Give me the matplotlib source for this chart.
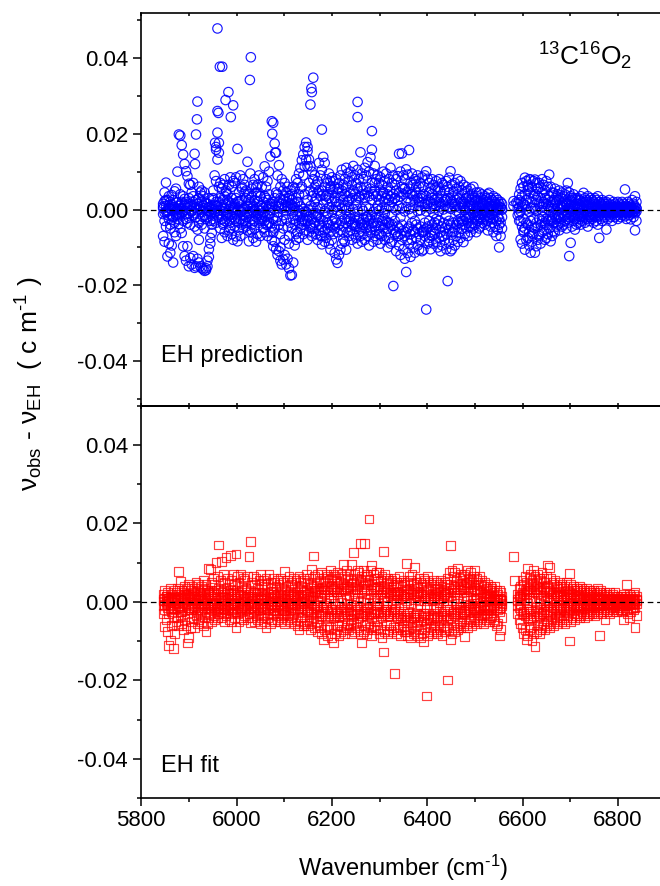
import matplotlib
matplotlib.use('Agg')
import matplotlib.pyplot as plt
from matplotlib.ticker import MultipleLocator, FormatStrFormatter

nan = float('nan')

# ---------------- data (residuals in units of 1e-3 cm^-1) ----------------
wavenumber = [
    5846, 5849, 5852, 5855, 5858, 5861, 5864, 5867, 5870, 5873,
    5876, 5879, 5882, 5885, 5888, 5891, 5894, 5897, 5900, 5903,
    5906, 5909, 5912, 5915, 5918, 5921, 5924, 5927, 5930, 5933,
    5936, 5939, 5942, 5945, 5948, 5951, 5954, 5957, 5960, 5963,
    5966, 5969, 5972, 5975, 5978, 5981, 5984, 5987, 5990, 5993,
    5996, 5999, 6002, 6005, 6008, 6011, 6014, 6017, 6020, 6023,
    6026, 6029, 6032, 6035, 6038, 6041, 6044, 6047, 6050, 6053,
    6056, 6059, 6062, 6065, 6068, 6071, 6074, 6077, 6080, 6083,
    6086, 6089, 6092, 6095, 6098, 6101, 6104, 6107, 6110, 6113,
    6116, 6119, 6122, 6125, 6128, 6131, 6134, 6137, 6140, 6143,
    6146, 6149, 6152, 6155, 6158, 6161, 6164, 6167, 6170, 6173,
    6176, 6179, 6182, 6185, 6188, 6191, 6194, 6197, 6200, 6203,
    6206, 6209, 6212, 6215, 6218, 6221, 6224, 6227, 6230, 6233,
    6236, 6239, 6242, 6245, 6248, 6251, 6254, 6257, 6260, 6263,
    6266, 6269, 6272, 6275, 6278, 6281, 6284, 6287, 6290, 6293,
    6296, 6299, 6302, 6305, 6308, 6311, 6314, 6317, 6320, 6323,
    6326, 6329, 6332, 6335, 6338, 6341, 6344, 6347, 6350, 6353,
    6356, 6359, 6362, 6365, 6368, 6371, 6374, 6377, 6380, 6383,
    6386, 6389, 6392, 6395, 6398, 6401, 6404, 6407, 6410, 6413,
    6416, 6419, 6422, 6425, 6428, 6431, 6434, 6437, 6440, 6443,
    6446, 6449, 6452, 6455, 6458, 6461, 6464, 6467, 6470, 6473,
    6476, 6479, 6482, 6485, 6488, 6491, 6494, 6497, 6500, 6503,
    6506, 6509, 6512, 6515, 6518, 6521, 6524, 6527, 6530, 6533,
    6536, 6539, 6542, 6545, 6548, 6551, 6554, 6557, 6560, 6563,
    6566, 6569, 6572, 6575, 6578, 6581, 6584, 6587, 6590, 6593,
    6596, 6599, 6602, 6605, 6608, 6611, 6614, 6617, 6620, 6623,
    6626, 6629, 6632, 6635, 6638, 6641, 6644, 6647, 6650, 6653,
    6656, 6659, 6662, 6665, 6668, 6671, 6674, 6677, 6680, 6683,
    6686, 6689, 6692, 6695, 6698, 6701, 6704, 6707, 6710, 6713,
    6716, 6719, 6722, 6725, 6728, 6731, 6734, 6737, 6740, 6743,
    6746, 6749, 6752, 6755, 6758, 6761, 6764, 6767, 6770, 6773,
    6776, 6779, 6782, 6785, 6788, 6791, 6794, 6797, 6800, 6803,
    6806, 6809, 6812, 6815, 6818, 6821, 6824, 6827, 6830, 6833,
    6836, 6839,
]

# EH prediction residuals
pred_lower = [
    -7.0, -8.5, -4.5, -12.4, -9.0, -11.4, -9.5, -14.0, -6.0, -7.0,
    -2.5, -3.8, -5.0, -6.2, -9.7, -12.3, -13.5, -9.7, -15.0, -12.8,
    -14.5, -12.3, -15.4, -15.0, -13.0, -14.0, -15.0, -15.5, -15.8, -16.2,
    -16.0, -15.0, -12.5, -9.0, -6.2, -3.0, 1.2, 7.5, 13.2, 15.0,
    -5.0, -7.5, -4.0, -6.0, -2.5, -7.0, -5.5, -3.5, -6.5, -8.0,
    -4.5, -7.1, -8.4, -5.5, -7.0, -4.0, -5.0, -3.0, -3.5, -5.5,
    -8.4, -6.0, -4.0, -7.5, -5.0, -8.5, -6.5, -2.5, -7.0, -3.0,
    -5.0, -6.0, -4.0, -7.0, -3.5, -6.0, -8.0, -9.7, -8.5, -10.5,
    -12.0, -11.0, -13.5, -14.5, -13.2, -12.0, -14.5, -13.0, -15.5, -17.4,
    -17.3, -14.0, -9.5, -8.0, -6.0, -7.5, -5.0, -4.0, -6.5, -3.0,
    -5.5, -8.0, -6.0, -4.5, -7.0, -5.0, -3.5, -6.5, -8.0, -5.5,
    -7.0, -9.2, -6.0, -8.5, -7.5, -5.0, -9.0, -10.6, -8.0, -6.5,
    -11.5, -13.2, -14.1, -12.0, -10.6, -9.0, -7.9, -8.5, -10.6, -6.0,
    -7.0, -5.5, -8.0, -6.5, -4.5, -7.5, -9.0, -6.0, -5.0, -8.5,
    -6.5, -8.0, -5.0, -7.0, -9.5, -6.0, -4.5, -8.5, -7.0, -5.5,
    -8.0, -6.5, -9.0, -7.0, -5.0, -8.0, -6.0, -10.0, -7.5, -9.0,
    -8.5, -20.2, -6.5, -11.0, -7.0, -9.5, -12.0, -8.0, -10.5, -13.0,
    -16.5, -11.5, -9.0, -12.5, -8.0, -10.0, -11.4, -7.5, -9.5, -10.6,
    -8.0, -11.0, -10.6, -7.0, -26.4, -9.0, -8.5, -10.5, -7.0, -9.0,
    -6.5, -8.5, -10.0, -7.5, -11.0, -9.5, -7.0, -8.0, -10.5, -18.9,
    -9.0, -11.0, -10.5, -8.0, -9.5, -7.0, -8.5, -6.0, -7.5, -5.0,
    -8.6, -6.5, -5.0, -7.0, -4.5, -6.0, -3.5, -5.0, -4.0, -6.0,
    -3.0, -5.0, -4.5, -3.5, -2.5, -4.0, -3.0, -5.5, -2.0, -4.5,
    -3.5, -6.0, -4.5, -7.0, -5.3, -10.0, -7.0, -5.0, nan, nan,
    nan, nan, nan, nan, nan, 1.0, nan, 1.8, nan, -3.0,
    -7.9, -9.0, -6.0, -10.6, -8.0, -7.5, -9.5, -11.4, -8.5, -6.5,
    -11.4, -9.7, -8.0, -7.0, -9.0, -6.0, -5.5, -8.0, -7.5, -6.5,
    -5.0, -8.4, -7.0, -5.7, -6.0, -4.5, -4.0, -5.5, -3.5, -4.5,
    -4.0, -3.0, -5.0, -3.5, -12.3, -8.8, -4.5, -3.0, -5.3, -4.0,
    -3.5, -2.5, -4.0, -3.0, -2.0, -3.5, -2.5, -4.5, -3.0, -2.0,
    -2.5, -3.5, -2.0, -3.0, -4.0, -7.5, -2.5, -3.0, -1.5, -2.0,
    -5.3, -2.5, -1.5, -2.0, -3.0, -1.0, -2.0, -1.5, -2.5, -1.0,
    -2.0, -1.5, -1.0, -1.8, -2.5, -1.0, -1.5, -2.6, -1.0, -2.0,
    -5.5, -3.0,
]

pred_upper = [
    1.5, 4.5, 7.1, 2.5, 3.5, 2.0, 3.8, 2.5, 4.8, 5.5,
    10.0, 19.8, 19.5, 17.0, 14.5, 12.0, 10.1, 8.8, 6.8, 6.5,
    4.5, 7.0, 14.7, 19.8, 28.5, 6.0, 4.5, 5.0, 3.5, 4.5,
    -15.5, -13.5, -10.5, -7.5, -4.0, 3.0, 9.0, 15.8, 20.3, 17.6,
    7.0, 5.5, 6.5, 8.0, 5.0, 4.0, 6.5, 8.5, 6.0, 7.5,
    7.0, 8.5, 16.0, 4.5, 9.0, 6.0, 8.0, 6.5, 5.0, 12.6,
    4.0, 9.5, 5.5, 6.5, 8.0, 6.0, 4.5, 9.0, 3.5, 6.0,
    8.5, 11.4, 6.0, 7.5, 10.0, 14.0, 23.3, 22.9, 17.4, 15.0,
    9.0, 11.7, 6.0, 8.0, 5.0, 7.0, 4.5, 6.0, 3.5, 5.0,
    4.0, 6.0, 5.5, 8.0, 7.0, 9.5, 11.0, 13.0, 14.5, 16.5,
    17.7, 15.4, 13.2, 11.4, 10.0, 8.0, 9.0, 6.5, 7.5, 12.3,
    9.0, 10.5, 13.9, 12.3, 8.0, 7.0, 9.5, 6.0, 8.5, 7.5,
    6.0, 8.0, 5.5, 7.0, 9.0, 10.5, 6.5, 8.0, 11.0, 9.5,
    7.5, 10.0, 8.5, 11.5, 9.0, 7.0, 10.5, 8.0, 15.1, 9.5,
    8.0, 11.0, 9.0, 12.5, 10.0, 13.8, 15.8, 9.5, 11.5, 8.0,
    9.0, 7.0, 8.5, 6.5, 10.0, 7.5, 9.5, 6.0, 8.0, 11.0,
    7.0, 9.0, 6.5, 8.0, 8.8, 14.7, 10.0, 14.8, 9.0, 8.0,
    10.6, 9.2, 15.7, 7.0, 9.5, 6.5, 8.0, 7.5, 9.0, 6.0,
    7.0, 8.5, 6.0, 9.0, 10.1, 8.1, 7.0, 5.5, 8.0, 6.5,
    5.5, 7.5, 6.0, 8.0, 5.0, 7.0, 6.5, 5.0, 7.5, 6.0,
    8.4, 10.1, 6.6, 4.8, 7.0, 5.5, 8.0, 6.0, 7.5, 5.0,
    6.5, 4.5, 6.0, 5.0, 3.5, 5.5, 4.0, 6.0, 3.0, 4.5,
    3.5, 4.5, 3.0, 4.0, 2.5, 3.5, 3.0, 4.0, 4.4, 3.0,
    2.5, 3.5, 2.0, 3.0, 2.5, 1.5, 2.0, 1.5, nan, nan,
    nan, nan, nan, nan, nan, 2.2, nan, nan, nan, 4.0,
    5.5, 7.0, 6.0, 8.4, 7.5, 6.5, 8.0, 7.9, 6.0, 7.5,
    7.9, 7.0, 5.5, 7.0, 6.0, 8.0, 6.5, 5.0, 7.5, 6.0,
    9.2, 6.0, 4.5, 4.4, 5.5, 3.5, 4.0, 5.0, 3.0, 4.5,
    3.5, 4.0, 5.0, 7.0, 4.5, 3.5, 3.0, 4.0, 3.0, 2.5,
    3.0, 2.5, 3.5, 2.0, 4.4, 3.0, 2.5, 3.5, 2.0, 3.0,
    2.5, 2.0, 3.0, 2.5, 3.5, 2.0, 1.5, 2.5, 2.0, 1.5,
    2.0, 1.5, 2.5, 1.3, 1.0, 2.0, 1.5, 1.0, 2.0, 1.5,
    1.0, 2.0, 1.5, 5.3, 1.0, 2.0, 1.5, 1.0, 2.5, 1.5,
    3.5, 2.0,
]

pred_core_neg = [
    -1.2, -3.0, -0.5, -1.5, -2.5, -4.0, -2.8, -1.8, -3.5, -1.5,
    -0.8, -1.2, 0.3, -1.0, -3.0, 1.0, -2.5, -3.5, -1.0, -4.0,
    -0.5, -1.5, -4.5, -2.0, -5.3, -3.5, -2.5, -4.0, -2.0, -5.0,
    -2.5, -2.0, -0.5, -3.0, -0.8, -2.5, -1.0, -3.5, -1.5, -2.0,
    -1.0, -2.5, -0.5, -3.0, -1.5, -1.0, -3.0, -1.5, -2.0, -0.5,
    -2.5, -1.0, -1.5, -3.5, -2.5, -0.5, -3.0, -1.5, -2.0, -1.0,
    -2.0, -1.0, -2.5, -0.5, -3.0, -2.0, -1.0, -3.5, -1.5, -2.5,
    -1.0, -3.0, -2.0, -1.5, -3.5, -1.0, -4.5, -6.0, -5.0, -3.0,
    -2.0, -4.0, -6.5, -3.0, -5.0, -8.0, -2.5, -4.5, -7.0, -3.5,
    -5.0, -2.5, -4.0, -3.0, -1.5, -3.5, -2.0, -1.0, -2.5, -0.5,
    -1.5, -3.0, -2.0, -4.0, -2.5, -1.0, -3.5, -2.0, -1.5, -4.0,
    -2.5, -4.5, -3.0, -5.5, -2.0, -3.5, -4.0, -6.0, -3.0, -4.5,
    -5.0, -3.5, -6.0, -4.0, -5.5, -3.0, -4.5, -2.5, -3.5, -2.0,
    -3.0, -2.5, -4.0, -3.5, -2.0, -4.5, -3.0, -2.5, -3.5, -4.0,
    -2.5, -3.5, -2.0, -4.0, -3.0, -2.5, -1.5, -3.5, -4.5, -2.0,
    -3.5, -2.0, -4.5, -3.0, -2.5, -4.0, -3.0, -5.0, -3.5, -4.5,
    -4.0, -5.5, -3.0, -6.0, -4.5, -5.0, -6.5, -4.0, -5.5, -7.0,
    -6.0, -5.0, -4.5, -6.5, -3.5, -5.5, -6.0, -4.0, -5.0, -6.5,
    -4.5, -6.0, -5.5, -3.5, -5.0, -4.5, -3.0, -6.0, -4.0, -5.5,
    -3.5, -5.0, -4.0, -3.0, -6.0, -4.5, -3.5, -5.0, -6.5, -4.0,
    -5.0, -4.0, -6.0, -3.5, -5.0, -4.0, -3.0, -3.5, -2.5, -3.0,
    -3.0, -2.0, -2.5, -3.5, -2.0, -1.5, -2.5, -1.0, -2.0, -1.5,
    -1.5, -2.0, -1.0, -1.5, -0.5, -2.0, -1.0, -1.5, -0.5, -2.5,
    -1.5, -2.5, -1.0, -3.0, -2.0, -4.0, -3.5, -2.0, nan, nan,
    nan, nan, nan, nan, nan, nan, nan, nan, -1.5, -1.0,
    -3.0, -4.5, -2.5, -5.0, -3.5, -4.0, -6.0, -3.0, -4.5, -2.5,
    -5.0, -3.5, -4.5, -2.5, -4.0, -3.0, -2.0, -3.5, -2.5, -3.0,
    -2.5, -3.0, -2.0, -3.5, -1.5, -2.5, -2.0, -1.5, -2.5, -1.0,
    -2.0, -1.5, -1.0, -2.5, -2.0, -1.5, -1.0, -2.0, -1.5, -1.0,
    -1.5, -1.0, -2.0, -1.5, -1.0, -0.5, -1.5, -1.0, -2.0, -0.5,
    -1.0, -1.5, -0.5, -1.0, -2.0, -1.5, -1.0, -0.5, -1.0, -0.8,
    -0.5, -1.0, -0.8, -0.5, -1.2, -0.5, -0.8, -0.3, -0.6, -0.5,
    -0.8, -0.5, -0.3, -0.6, -1.0, -0.4, -0.7, -0.5, -0.3, -0.6,
    -1.0, -0.5,
]

pred_core_pos = [
    0.8, 2.2, 1.0, -0.5, 0.5, 0.2, 1.2, 0.6, 0.0, 1.8,
    2.0, 0.9, 4.0, 2.0, 3.5, 1.5, 2.0, 1.0, 3.0, 1.5,
    1.0, 2.0, 0.5, 2.5, 1.5, 3.0, 0.0, 2.0, 1.0, 1.8,
    0.5, 1.5, 3.0, 0.5, 1.0, 2.5, 0.0, 2.0, 1.0, 2.0,
    3.0, 0.5, 2.5, 3.5, 1.5, 2.5, 2.0, 1.0, 3.0, 0.5,
    1.5, 3.0, 2.0, 1.5, 0.5, 2.5, 0.0, 4.5, 3.0, 1.0,
    2.5, 1.5, 3.5, 1.0, 2.5, 4.5, 2.0, 0.5, 3.5, 1.0,
    2.0, 3.5, 1.0, 2.5, 4.0, 1.5, 0.5, 2.0, 3.0, 1.0,
    4.0, 2.0, 3.0, 1.5, 2.5, 0.5, 2.0, 1.0, 3.0, 1.5,
    2.5, 0.5, 1.5, 3.0, 2.0, 4.0, 5.5, 6.0, 9.0, 11.4,
    13.2, 11.4, 7.0, 5.0, 3.5, 4.5, 2.0, 3.0, 4.5, 5.0,
    3.5, 5.0, 4.0, 6.0, 2.5, 4.0, 3.0, 5.5, 2.0, 4.5,
    3.0, 2.0, 4.5, 1.5, 3.5, 5.0, 2.5, 4.0, 6.0, 3.5,
    2.5, 4.5, 3.0, 5.0, 4.0, 2.5, 5.5, 3.5, 6.0, 4.0,
    5.0, 3.0, 6.0, 4.5, 3.5, 5.5, 7.0, 4.0, 5.0, 3.5,
    4.0, 2.5, 5.0, 3.5, 4.5, 2.0, 3.0, 4.0, 2.5, 3.5,
    2.0, 4.0, 3.0, 5.0, 2.5, 4.5, 3.5, 6.0, 4.0, 5.5,
    4.5, 3.0, 5.5, 2.0, 4.0, 3.5, 2.5, 4.5, 3.0, 2.0,
    3.0, 2.0, 4.0, 1.5, 3.5, 2.5, 4.5, 2.0, 3.0, 1.5,
    2.5, 1.0, 3.0, 2.0, 1.5, 3.5, 2.0, 1.0, 2.5, 3.0,
    4.5, 3.0, 2.0, 3.5, 1.5, 2.5, 1.0, 3.0, 2.0, 1.5,
    2.0, 1.5, 3.0, 1.0, 2.0, 1.5, 2.5, 1.0, 2.0, 0.5,
    1.5, 1.0, 2.0, 0.5, 1.5, 1.0, 2.0, 0.5, 1.5, 1.0,
    1.0, 0.5, 1.5, 0.5, 1.0, 0.0, 0.5, 0.2, nan, nan,
    nan, nan, nan, nan, nan, nan, nan, nan, 1.5, 0.5,
    2.0, 3.5, 1.5, 4.0, 2.5, 5.0, 3.0, 4.5, 2.0, 3.5,
    4.0, 2.5, 3.5, 1.5, 3.0, 4.5, 2.0, 3.0, 1.5, 2.5,
    3.5, 2.0, 1.0, 2.5, 1.5, 2.0, 1.0, 2.5, 1.0, 1.5,
    1.0, 2.0, 1.5, 0.5, 1.5, 1.0, 2.0, 0.5, 1.0, 1.5,
    0.5, 1.5, 1.0, 0.5, 1.0, 2.0, 0.5, 1.0, 1.5, 0.5,
    1.0, 0.5, 1.5, 0.5, 1.0, 0.3, 0.8, 0.5, 1.0, 0.3,
    0.5, 0.8, 0.3, 0.6, 0.5, 0.2, 0.7, 0.4, 0.8, 0.3,
    0.6, 0.4, 0.8, 0.5, 0.3, 0.7, 0.4, 0.6, 0.3, 0.5,
    0.8, 0.4,
]

pred_mid = [
    0.3, -0.8, 2.5, -0.2, 1.1, -5.0, 0.0, -2.0, 0.6, -0.4,
    0.2, -1.8, 1.3, 0.0, -0.6, 2.8, -1.3, 0.4, -2.2, 0.8,
    -0.3, 3.5, -1.0, 0.5, -0.2, -8.0, 1.0, -0.7, 0.3, -1.5,
    1.8, -0.4, 0.6, -1.2, 0.1, 5.0, -0.6, 0.9, -0.3, 6.0,
    -0.2, 1.2, -3.5, 0.4, 4.5, -0.8, 0.2, -5.0, 1.6, -0.1,
    0.5, -3.0, 0.0, 2.2, -0.6, 5.5, -1.4, 0.3, -4.5, 0.8,
    -0.5, 2.0, -5.5, 0.6, 0.0, -1.2, 6.5, -0.3, 0.9, -2.0,
    0.4, -0.6, 3.0, -4.0, 0.8, -0.2, 1.5, -2.5, 0.0, 4.5,
    -0.8, 1.0, -10.0, 0.3, -1.5, 3.5, -0.4, 0.7, -9.0, 0.2,
    1.2, -0.5, 0.4, -6.5, 2.0, -0.3, 0.8, -3.0, 0.1, 4.0,
    -0.6, 2.5, -0.2, 0.9, -5.0, 0.3, 6.0, -1.0, 0.5, -2.0,
    0.2, -7.0, 1.5, -0.4, 3.5, -1.0, 0.6, 7.5, -0.8, 0.0,
    -2.5, 0.7, -0.3, 5.5, -1.2, 0.4, -6.0, 1.0, -0.2, 2.0,
    0.5, -0.9, 6.5, 0.0, -4.0, 1.3, -0.5, 3.0, -7.0, 0.2,
    -0.4, 4.0, 0.8, -2.0, 0.3, -5.5, 2.5, -0.6, 7.0, 0.1,
    1.0, -0.3, -6.5, 0.5, 4.5, -1.0, 0.2, -3.5, 0.7, 5.0,
    -1.5, 0.4, 3.0, -0.2, -7.0, 0.9, -2.0, 0.3, 5.5, -0.5,
    0.6, -8.0, 0.1, 4.0, -1.2, 0.5, -3.0, 6.0, -0.4, 1.0,
    -0.2, 3.5, -6.0, 0.6, -0.5, 1.5, -7.5, 0.2, 4.0, -1.0,
    0.3, -2.5, 5.0, -0.4, 0.8, -7.0, 0.0, 2.5, -1.5, 0.5,
    -3.0, 0.2, 1.5, -6.0, 0.6, -0.3, 4.0, -1.0, 0.4, -4.0,
    0.5, -0.2, 3.0, -2.0, 0.3, 1.0, -4.5, 0.2, -0.6, 2.5,
    -0.3, 0.6, -2.5, 1.5, 0.0, -0.5, 2.0, -3.0, 0.4, 0.1,
    0.5, -0.4, 1.5, -0.2, 0.3, -2.5, 0.6, -0.1, nan, nan,
    nan, nan, nan, nan, nan, nan, nan, nan, 0.3, 2.5,
    -0.5, 0.8, -5.5, 1.2, 0.0, 6.0, -0.6, 0.3, -7.0, 0.5,
    0.2, -0.4, 5.5, -6.5, 0.6, -0.2, 1.5, -4.0, 0.3, 0.9,
    -0.3, 0.6, -3.0, 0.2, 2.5, -0.5, 0.4, -2.0, 0.1, 0.7,
    0.4, -0.2, 1.8, -0.6, 0.3, 2.5, -0.4, 0.2, -2.5, 0.5,
    -0.2, 0.4, -1.0, 0.6, 0.0, -0.3, 1.2, -0.5, 0.3, -1.5,
    0.2, -0.4, 0.6, -0.1, 0.3, -0.6, 0.1, 1.0, -0.3, 0.2,
    -0.2, 0.3, -0.4, 0.1, 0.2, -0.3, 0.4, -0.1, 0.2, -0.2,
    0.1, -0.2, 0.3, -0.1, 0.2, -0.3, 0.1, 0.2, -0.2, 0.1,
    -0.3, 0.2,
]

pred_extra_wn = [5960, 5965, 5970, 6030, 6028, 5983, 5977, 5993, 5988, 5960,
                 5962, 5917, 5913, 6161, 6157, 6158, 6155, 6179, 6254, 6254,
                 6284, 6149, 6081, 6075, 5955, 5957]
pred_extra_res = [47.8, 37.7, 37.7, 40.2, 34.2, 31.0, 28.9, 27.5, 24.4, 26.0,
                  25.5, 23.8, 12.0, 34.8, 32.0, 31.0, 27.7, 21.1, 28.4, 24.4,
                  20.7, 16.5, 15.0, 20.0, 17.6, 16.5]

# EH fit residuals
fit_lower = [
    -3.0, -6.3, -4.5, -7.6, -11.1, -9.7, -6.0, -11.9, -8.0, -5.0,
    -4.0, -6.0, -3.5, -5.5, -7.0, -4.5, -6.0, -10.5, -9.0, -6.5,
    -5.0, -4.0, -6.5, -3.5, -5.5, -4.5, -3.0, -5.0, -6.0, -4.0,
    -7.6, -5.5, -4.0, -3.0, -5.0, -3.5, -4.5, -2.5, -4.0, -3.0,
    -2.5, -4.0, -3.0, -5.0, -3.5, -2.0, -4.5, -3.0, -5.0, -2.5,
    -4.0, -6.5, -3.0, -5.0, -4.0, -2.5, -4.5, -3.5, -2.0, -4.0,
    -3.0, -5.3, -4.0, -2.5, -5.0, -3.5, -4.5, -3.0, -5.5, -4.0,
    -3.5, -5.0, -6.5, -4.0, -3.0, -5.5, -4.5, -3.0, -5.0, -3.5,
    -4.5, -3.0, -5.0, -4.0, -3.5, -5.5, -3.0, -4.5, -3.5, -5.0,
    -4.0, -3.0, -5.5, -4.5, -6.0, -7.1, -5.0, -4.0, -6.0, -5.5,
    -4.5, -6.0, -5.0, -7.0, -5.5, -4.0, -6.5, -5.0, -7.5, -6.0,
    -6.5, -8.0, -9.7, -7.0, -6.0, -8.5, -7.0, -6.5, -9.0, -10.4,
    -8.0, -7.0, -6.0, -8.5, -7.5, -6.0, -7.0, -8.0, -6.5, -5.5,
    -7.0, -6.0, -8.0, -5.5, -7.5, -6.5, -5.0, -7.0, -8.2, -10.5,
    -7.5, -6.0, -8.0, -7.0, -5.5, -6.5, -8.5, -7.0, -6.0, -5.0,
    -6.5, -8.0, -7.0, -9.0, -12.8, -7.5, -6.0, -8.0, -7.0, -6.0,
    -7.5, -6.5, -18.3, -8.0, -7.0, -6.5, -8.5, -7.0, -6.0, -7.6,
    -7.6, -8.5, -7.0, -9.0, -6.5, -8.0, -7.5, -6.0, -8.5, -7.0,
    -9.0, -8.0, -10.1, -7.0, -24.0, -8.5, -7.5, -6.5, -8.0, -7.0,
    -6.0, -7.5, -8.0, -6.5, -7.0, -8.5, -6.0, -7.5, -6.5, -19.9,
    -7.0, -9.5, -8.0, -6.5, -7.5, -6.0, -7.0, -5.5, -6.5, -5.0,
    -6.0, -8.8, -5.5, -6.5, -5.0, -4.5, -6.0, -5.0, -4.0, -5.5,
    -4.5, -5.0, -3.5, -4.0, -5.5, -3.0, -4.5, -3.5, -5.0, -4.0,
    -3.5, -4.5, -5.0, -6.0, -5.5, -8.7, -7.0, -4.0, nan, nan,
    nan, nan, nan, nan, nan, nan, nan, nan, -3.0, -4.5,
    -5.5, -6.5, -8.0, -7.0, -9.6, -8.5, -7.0, -6.5, -9.9, -8.0,
    -11.4, -7.5, -6.0, -8.0, -7.0, -6.5, -5.5, -7.0, -6.0, -5.0,
    -6.5, -5.5, -4.5, -6.0, -5.0, -4.0, -5.5, -4.5, -3.5, -5.0,
    -4.0, -5.5, -4.5, -3.5, -10.0, -5.0, -4.0, -3.0, -4.5, -3.5,
    -3.0, -4.0, -3.5, -2.5, -3.0, -4.0, -2.5, -3.5, -3.0, -2.0,
    -3.0, -2.5, -3.5, -2.0, -3.0, -8.6, -2.5, -3.0, -2.0, -4.6,
    -2.5, -2.0, -3.0, -1.5, -2.5, -2.0, -1.5, -2.5, -2.0, -1.5,
    -2.0, -2.5, -4.5, -1.5, -2.0, -3.0, -4.0, -2.5, -1.5, -2.0,
    -6.6, -3.5,
]

fit_upper = [
    2.0, 3.0, 1.5, 2.5, 1.0, 3.5, 2.0, 1.5, 3.0, 2.5,
    3.5, 7.7, 5.2, 3.0, 2.5, 4.0, 2.0, 3.5, 4.5, 3.0,
    4.0, 2.5, 3.5, 5.0, 3.0, 4.5, 2.5, 4.0, 5.5, 3.5,
    4.5, 3.0, 8.6, 8.2, 5.0, 6.0, 4.5, 10.1, 6.5, 14.5,
    5.5, 10.3, 7.0, 5.0, 11.4, 6.0, 4.5, 11.8, 5.5, 7.0,
    4.5, 12.2, 6.5, 5.0, 7.0, 4.0, 6.0, 5.5, 3.5, 6.5,
    11.6, 15.4, 5.0, 6.5, 4.5, 6.0, 3.5, 5.5, 7.0, 4.5,
    5.5, 4.0, 6.0, 4.5, 7.0, 5.0, 3.5, 6.0, 5.0, 4.0,
    5.5, 4.5, 6.0, 3.5, 5.0, 7.7, 4.0, 5.5, 6.5, 4.5,
    5.0, 6.0, 4.0, 5.5, 3.5, 6.5, 5.0, 4.0, 6.0, 5.5,
    7.0, 5.0, 6.0, 4.5, 8.2, 11.7, 6.5, 5.0, 7.0, 6.0,
    5.5, 7.5, 6.0, 5.0, 7.0, 6.5, 5.5, 8.0, 6.0, 7.0,
    6.5, 5.5, 7.5, 6.0, 5.0, 7.0, 9.6, 6.5, 8.0, 6.0,
    7.0, 5.5, 9.6, 12.6, 7.0, 6.0, 8.0, 7.5, 14.8, 6.5,
    8.0, 14.8, 7.0, 6.5, 21.1, 8.0, 9.3, 7.0, 6.0, 7.5,
    6.0, 7.5, 5.5, 6.5, 12.8, 7.0, 5.0, 6.0, 5.5, 4.5,
    5.5, 4.0, 6.0, 5.0, 4.5, 6.5, 5.0, 4.0, 5.5, 4.5,
    9.7, 5.0, 6.5, 5.5, 7.0, 4.5, 8.8, 5.0, 4.0, 6.0,
    5.0, 4.5, 6.0, 5.5, 4.0, 6.6, 5.0, 3.5, 4.5, 5.5,
    4.0, 5.0, 3.5, 4.5, 5.5, 4.0, 3.0, 5.0, 4.5, 6.0,
    7.5, 14.4, 8.0, 6.5, 7.5, 5.5, 8.5, 6.0, 7.0, 5.5,
    6.5, 7.0, 5.0, 8.0, 6.0, 7.5, 5.5, 6.5, 8.0, 6.0,
    5.0, 6.5, 4.5, 5.5, 4.0, 5.0, 3.5, 4.5, 3.0, 4.0,
    3.5, 2.5, 4.0, 3.0, 2.0, 3.0, 2.5, 1.5, nan, nan,
    nan, nan, nan, nan, nan, 11.6, 5.5, nan, 2.0, 3.5,
    4.0, 5.5, 4.5, 6.5, 5.0, 8.6, 6.0, 7.0, 5.5, 7.9,
    6.5, 5.0, 7.0, 6.0, 5.5, 7.5, 6.0, 5.0, 6.5, 9.4,
    8.7, 6.0, 5.0, 4.5, 5.5, 4.0, 3.5, 5.0, 4.0, 4.5,
    3.5, 4.0, 5.0, 3.0, 7.3, 4.5, 3.5, 4.0, 3.0, 3.5,
    3.0, 4.0, 2.5, 3.5, 3.0, 2.5, 3.5, 2.0, 3.0, 2.5,
    2.0, 3.0, 2.5, 2.0, 3.5, 2.5, 3.0, 2.0, 1.5, 2.5,
    2.0, 1.5, 2.5, 1.0, 2.0, 1.5, 2.5, 1.0, 1.5, 1.0,
    1.5, 1.0, 2.0, 1.5, 4.5, 1.0, 2.0, 1.5, 1.0, 2.0,
    2.5, 1.5,
]

fit_core_neg = [
    -1.0, -2.0, -0.5, -1.5, -3.0, -1.0, -2.5, -1.5, -2.0, -0.5,
    -1.5, -1.0, -2.5, -1.5, -0.5, -2.0, -1.0, -3.0, -1.5, -2.0,
    -2.0, -1.0, -1.5, -0.5, -2.5, -1.5, -1.0, -2.0, -0.5, -1.5,
    -2.5, -1.0, -1.5, -0.5, -2.0, -1.0, -1.5, -0.5, -2.0, -1.0,
    -1.0, -0.5, -1.5, -2.0, -1.0, -0.5, -1.5, -1.0, -2.0, -0.5,
    -1.5, -2.5, -1.0, -0.5, -2.0, -1.5, -1.0, -0.5, -1.5, -1.0,
    -0.5, -1.5, -1.0, -2.0, -0.5, -1.0, -1.5, -0.5, -2.0, -1.0,
    -1.5, -0.5, -2.0, -1.0, -1.5, -0.5, -1.0, -2.0, -1.5, -0.5,
    -1.0, -2.0, -0.5, -1.5, -1.0, -2.0, -0.5, -1.0, -1.5, -2.0,
    -1.5, -0.5, -2.0, -1.0, -2.5, -1.5, -1.0, -2.0, -0.5, -1.5,
    -2.0, -1.0, -2.5, -1.5, -3.0, -2.0, -1.0, -2.5, -1.5, -3.0,
    -2.5, -3.5, -2.0, -3.0, -1.5, -2.5, -3.5, -2.0, -3.0, -4.0,
    -3.5, -2.5, -3.0, -4.0, -2.0, -3.0, -2.5, -3.5, -2.0, -3.0,
    -2.5, -3.0, -2.0, -3.5, -2.5, -3.0, -2.0, -4.0, -3.0, -3.5,
    -3.0, -2.5, -3.5, -2.0, -3.0, -2.5, -4.0, -3.0, -2.5, -2.0,
    -3.0, -2.5, -3.5, -4.0, -3.0, -2.5, -2.0, -3.5, -3.0, -2.5,
    -2.0, -3.0, -2.5, -3.5, -4.0, -3.0, -3.5, -4.5, -3.0, -4.0,
    -3.5, -4.5, -3.0, -4.0, -5.0, -3.5, -4.0, -3.0, -4.5, -3.5,
    -5.0, -4.0, -4.5, -3.5, -5.5, -4.0, -3.0, -4.5, -3.5, -4.0,
    -3.0, -4.0, -3.5, -2.5, -4.5, -3.0, -4.0, -2.5, -3.5, -4.5,
    -3.5, -4.0, -3.0, -2.5, -3.5, -2.0, -3.0, -2.5, -2.0, -3.0,
    -2.5, -3.0, -2.0, -1.5, -2.5, -2.0, -1.0, -2.0, -1.5, -2.5,
    -2.0, -1.5, -1.0, -2.0, -1.5, -1.0, -2.0, -1.5, -1.0, -2.0,
    -1.5, -2.0, -1.0, -1.5, -2.0, -2.5, -1.5, -1.0, nan, nan,
    nan, nan, nan, nan, nan, nan, nan, nan, -1.0, -1.5,
    -2.0, -3.0, -2.5, -3.5, -2.0, -4.0, -3.0, -2.5, -4.5, -3.5,
    -3.0, -4.0, -2.5, -3.5, -2.0, -3.0, -2.5, -2.0, -3.5, -2.5,
    -3.0, -2.0, -2.5, -1.5, -3.0, -2.0, -1.5, -2.5, -2.0, -1.5,
    -2.0, -1.5, -2.5, -1.0, -2.0, -1.5, -1.0, -2.0, -1.5, -1.0,
    -1.5, -1.0, -2.0, -1.0, -1.5, -0.5, -1.0, -1.5, -1.0, -0.5,
    -1.0, -1.5, -0.5, -1.0, -1.5, -1.0, -0.5, -1.0, -1.5, -0.8,
    -0.5, -1.0, -0.8, -0.5, -1.2, -0.6, -0.8, -0.4, -1.0, -0.5,
    -0.8, -0.5, -1.0, -0.6, -0.4, -0.9, -0.5, -0.7, -0.4, -0.8,
    -1.5, -0.5,
]

fit_core_pos = [
    0.5, 1.0, 0.0, 0.8, 0.2, 1.2, 0.5, -0.2, 1.0, 0.5,
    1.0, 2.0, 1.5, 0.5, 1.0, 2.0, 0.5, 1.5, 2.0, 1.0,
    1.5, 0.5, 2.0, 1.0, 1.5, 0.5, 2.0, 1.5, 2.5, 1.0,
    2.0, 1.0, 2.5, 1.5, 3.0, 2.0, 1.5, 3.0, 2.0, 3.5,
    2.5, 1.5, 3.0, 2.0, 3.5, 2.5, 1.5, 3.0, 2.0, 2.5,
    1.5, 3.0, 2.0, 2.5, 1.5, 3.0, 2.0, 1.0, 2.5, 1.5,
    2.0, 3.0, 1.5, 2.5, 1.0, 2.0, 1.5, 2.5, 1.0, 2.0,
    1.5, 2.5, 1.0, 2.0, 1.5, 2.5, 1.0, 2.0, 1.5, 1.0,
    2.0, 1.5, 2.5, 1.0, 2.0, 3.0, 1.5, 2.0, 1.0, 2.5,
    1.5, 2.0, 1.0, 2.5, 1.5, 2.0, 3.0, 1.5, 2.5, 2.0,
    3.0, 2.0, 2.5, 1.5, 3.5, 4.0, 2.5, 3.0, 2.0, 3.5,
    2.5, 3.5, 3.0, 2.0, 4.0, 3.0, 2.5, 3.5, 4.0, 3.0,
    3.5, 2.5, 4.0, 3.0, 2.5, 3.5, 4.5, 3.0, 4.0, 3.5,
    4.0, 3.0, 4.5, 5.0, 3.5, 4.0, 3.0, 4.5, 5.5, 3.5,
    4.0, 5.0, 3.5, 4.5, 5.5, 3.0, 4.5, 3.5, 4.0, 3.0,
    3.5, 4.0, 3.0, 2.5, 3.5, 4.0, 2.5, 3.0, 2.0, 2.5,
    2.0, 1.5, 2.5, 2.0, 1.5, 2.5, 2.0, 1.0, 2.0, 1.5,
    3.0, 2.0, 3.5, 2.5, 3.0, 2.0, 3.5, 2.5, 2.0, 1.5,
    2.0, 1.5, 2.5, 1.0, 2.0, 3.0, 1.5, 1.0, 2.0, 1.5,
    1.5, 2.0, 1.0, 1.5, 2.5, 1.0, 1.5, 2.0, 1.0, 2.5,
    3.5, 4.5, 3.0, 4.0, 3.5, 2.5, 4.0, 3.0, 4.5, 3.5,
    4.0, 3.0, 4.5, 3.5, 5.0, 4.0, 3.0, 4.5, 3.5, 3.0,
    2.5, 3.0, 2.0, 2.5, 1.5, 2.0, 1.5, 2.0, 1.0, 1.5,
    1.0, 1.5, 0.5, 1.0, 0.5, 1.0, 0.5, 0.3, nan, nan,
    nan, nan, nan, nan, nan, nan, nan, nan, 0.5, 1.0,
    1.5, 2.5, 2.0, 3.0, 2.5, 3.5, 3.0, 4.0, 3.0, 4.5,
    3.5, 3.0, 4.0, 3.5, 2.5, 4.0, 3.0, 2.5, 3.5, 4.0,
    3.0, 2.5, 2.0, 2.5, 1.5, 2.0, 1.5, 2.5, 2.0, 1.5,
    2.0, 1.5, 2.0, 1.0, 2.5, 1.5, 2.0, 1.0, 1.5, 2.0,
    1.5, 1.0, 2.0, 1.5, 1.0, 1.5, 0.5, 1.0, 1.5, 1.0,
    1.0, 1.5, 0.5, 1.0, 1.5, 0.5, 1.0, 0.8, 0.5, 1.0,
    0.5, 0.8, 0.3, 0.6, 0.8, 0.4, 0.7, 0.5, 0.3, 0.6,
    0.4, 0.7, 0.5, 0.8, 0.3, 0.6, 0.4, 0.5, 0.7, 0.3,
    0.8, 0.5,
]

fit_mid = [
    0.2, -0.6, 1.5, -0.3, 0.4, -1.8, 0.0, -4.0, 0.6, -0.2,
    0.3, -1.0, 0.8, -2.5, 0.1, 1.2, -0.4, 0.5, -1.5, 0.2,
    -0.4, 1.5, -0.1, 0.6, -2.0, 0.3, 1.0, -0.5, 0.2, -1.0,
    0.5, -0.2, 1.8, -0.6, 0.3, 2.5, -0.3, 0.8, -1.5, 0.4,
    0.6, -0.4, 1.2, 0.0, -1.8, 0.5, 2.2, -0.3, 0.9, -0.6,
    0.3, 1.0, -0.5, 2.0, 0.0, -1.5, 0.6, 0.2, -0.8, 1.4,
    -0.3, 0.8, 0.1, -1.5, 2.5, -0.4, 0.6, -2.0, 0.3, 0.9,
    0.5, -0.3, 1.2, -2.0, 0.2, 0.8, -0.6, 2.0, 0.0, -1.2,
    0.4, -0.8, 1.6, 0.1, -2.2, 0.6, -0.2, 1.0, -0.5, 0.3,
    -0.2, 1.3, -0.6, 0.5, 2.0, -1.8, 0.2, -0.4, 1.0, 0.0,
    0.6, -2.5, 0.3, 1.5, -0.5, 0.2, 2.8, -1.0, 0.4, -3.5,
    0.2, 1.6, -0.8, 3.0, -0.3, -4.0, 0.9, 0.3, -2.0, 1.2,
    -0.5, 2.5, 0.4, -3.5, 1.0, -0.2, 3.5, -1.5, 0.6, -0.4,
    1.5, -0.6, -4.5, 0.3, 2.0, -1.0, 0.8, -3.0, 0.2, 2.5,
    -0.2, 3.0, -1.5, 0.6, -0.4, 2.2, -3.0, 1.0, 0.3, -1.0,
    0.8, -0.5, 2.0, -2.5, 0.4, 1.2, -0.8, 0.2, -3.5, 1.5,
    -0.4, 1.0, -2.0, 0.5, 2.5, -0.3, -4.0, 0.8, 1.5, -0.6,
    0.3, -2.5, 1.2, -0.5, 2.0, -4.0, 0.6, 1.5, -1.0, 0.2,
    -0.6, 2.0, -3.0, 0.4, -1.5, 0.8, -4.5, 1.0, 0.2, -2.0,
    0.5, -1.5, 2.5, -0.2, 0.9, -3.5, 0.3, 1.8, -0.8, 0.4,
    -2.0, 1.5, 0.2, -3.0, 2.5, -0.5, 1.0, -1.5, 3.0, 0.1,
    0.8, -2.5, 1.5, 0.3, -1.0, 2.5, -0.4, 0.6, -2.0, 1.0,
    -0.3, 0.8, -1.5, 1.2, 0.1, -0.8, 1.5, -2.0, 0.5, 0.2,
    0.4, -0.6, 1.0, -0.2, 0.6, -1.5, 0.3, -0.4, nan, nan,
    nan, nan, nan, nan, nan, nan, nan, nan, 0.2, 1.5,
    -0.5, 1.0, -3.0, 0.6, 2.0, -0.3, 1.2, -4.0, 0.4, 2.5,
    0.1, -1.5, 2.0, -0.4, 0.8, -3.0, 1.5, 0.2, -1.0, 0.6,
    -0.2, 1.2, -1.5, 0.4, 0.8, -0.6, 1.6, -1.0, 0.3, 0.5,
    0.6, -0.8, 1.2, -0.2, 0.4, 1.8, -0.5, 0.3, -1.2, 0.7,
    -0.3, 0.5, -0.8, 1.0, 0.2, -0.4, 0.6, -1.0, 0.3, 0.1,
    0.2, -0.5, 0.8, -0.2, 0.4, -0.8, 0.3, 0.6, -0.4, 0.1,
    -0.2, 0.4, -0.3, 0.2, 0.5, -0.4, 0.1, -0.2, 0.3, -0.1,
    0.2, -0.3, 0.1, 0.4, -0.2, 0.3, -0.1, 0.2, -0.3, 0.1,
    -0.4, 0.3,
]

UNIT = 1e-3  # residuals listed in 10^-3 cm^-1

# ---------------- styling ----------------
plt.rcParams['font.family'] = ['Liberation Sans', 'DejaVu Sans']
plt.rcParams['mathtext.fontset'] = 'custom'
plt.rcParams['mathtext.rm'] = 'Liberation Sans'
plt.rcParams['mathtext.it'] = 'Liberation Sans:italic'
plt.rcParams['axes.unicode_minus'] = False

W, H = 660, 886
fig = plt.figure(figsize=(W / 100, H / 100), dpi=100)
fig.patch.set_facecolor('white')

left = 141.2 / W
width = 524.3 / W
ax1 = fig.add_axes([left, 1 - 405.7 / H, width, 392.4 / H])
ax2 = fig.add_axes([left, 1 - 798.0 / H, width, 392.3 / H])


def scale(vals):
    return [v * UNIT for v in vals]


circle_kw = dict(marker='o', s=46, facecolors='none', edgecolors='#0000ff',
                 linewidths=0.85, alpha=0.9, zorder=2)
for strand in (pred_mid, pred_core_neg, pred_core_pos, pred_lower, pred_upper):
    ax1.scatter(wavenumber, scale(strand), **circle_kw)
ax1.scatter(pred_extra_wn, scale(pred_extra_res), **circle_kw)

square_kw = dict(marker='s', s=40, facecolors='none', edgecolors='#ff0000',
                 linewidths=0.85, alpha=0.75, zorder=2)
for strand in (fit_mid, fit_core_neg, fit_core_pos, fit_lower, fit_upper):
    ax2.scatter(wavenumber, scale(strand), **square_kw)

for ax in (ax1, ax2):
    ax.axhline(0, color='black', lw=0.9, ls=(0, (4.5, 3)), zorder=3)
    ax.set_xlim(5800, 6900)
    ax.xaxis.set_major_locator(MultipleLocator(200))
    ax.xaxis.set_minor_locator(MultipleLocator(100))
    ax.yaxis.set_major_locator(MultipleLocator(0.02))
    ax.yaxis.set_minor_locator(MultipleLocator(0.01))
    ax.yaxis.set_major_formatter(FormatStrFormatter('%.2f'))
    ax.spines['right'].set_visible(False)
    for sp in ('left', 'top', 'bottom'):
        ax.spines[sp].set_linewidth(1.2)
    ax.tick_params(axis='y', which='major', direction='out', length=6, width=1.1,
                   labelsize=16, pad=3.5, right=False)
    ax.tick_params(axis='y', which='minor', direction='out', length=3, width=1.1,
                   right=False)
    ax.set_facecolor('none')

ax1.set_ylim(-0.0518, 0.0518)
ax2.set_ylim(-0.050, 0.050)

ax1.tick_params(axis='x', which='both', direction='in', length=2.5, width=1.1,
                top=True, bottom=True, labelbottom=False)
ax2.tick_params(axis='x', which='major', direction='out', length=6, width=1.1,
                labelsize=16, pad=3, top=False)
ax2.tick_params(axis='x', which='minor', direction='out', length=3, width=1.1,
                top=False)
sec = ax2.secondary_xaxis('top')
sec.xaxis.set_major_locator(MultipleLocator(100))
sec.tick_params(direction='in', length=2.5, width=1.1, labeltop=False)
sec.spines['top'].set_linewidth(1.2)

ax1.text(0.038, 0.111, 'EH prediction', transform=ax1.transAxes, fontsize=17,
         ha='left', va='baseline')
ax2.text(0.038, 0.067, 'EH fit', transform=ax2.transAxes, fontsize=17,
         ha='left', va='baseline')
ax1.text(0.756, 0.868, r'$^{13}$C$^{16}$O$_{2}$', transform=ax1.transAxes,
         fontsize=19, ha='left', va='baseline')

ax2.set_xlabel(r'Wavenumber (cm$^{\text{-1}}$)', fontsize=17, labelpad=15)
fig.text(30 / W, 1 - 384 / H, r'ν$_{\rm obs}$ - ν$_{\rm EH}$  ( c m$^{\text{-1}}$ )',
         rotation=90, fontsize=19, ha='center', va='center')

fig.savefig('out.png', dpi=100, facecolor='white')
